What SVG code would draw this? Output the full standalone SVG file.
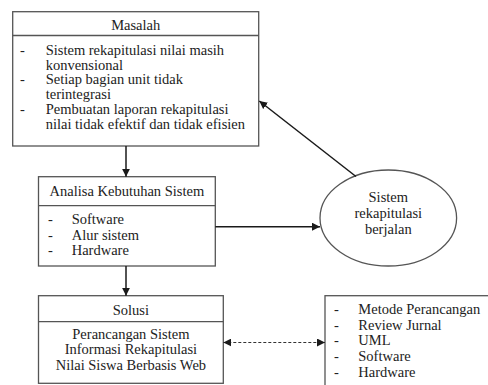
<svg xmlns="http://www.w3.org/2000/svg" width="488" height="385" viewBox="0 0 488 385">
<defs>
<marker id="ah" viewBox="0 0 10 10" refX="10" refY="5" markerWidth="8" markerHeight="8" markerUnits="userSpaceOnUse" orient="auto-start-reverse">
<path d="M0,0 L10,5 L0,10 Z" fill="#1a1a1a"/>
</marker>
</defs>
<style>
.box{fill:#fff;stroke:#555;stroke-width:1.3}
.t{font-family:"Liberation Serif","Times New Roman",serif;font-size:14.5px;fill:#222}
.c{text-anchor:middle}
.ln{stroke:#1a1a1a;stroke-width:1.5;fill:none}
.dash{stroke:#333;stroke-width:1.2;stroke-dasharray:3,2;fill:none}
</style>
<rect width="488" height="385" fill="#fff"/>
<g id="masalah">
<rect class="box" x="12.7" y="11.7" width="246" height="134.3"/>
<line class="box" x1="12.7" y1="35.5" x2="258.7" y2="35.5"/>
<text class="t c" x="135.7" y="30">Masalah</text>
<text class="t" x="20" y="55">-</text>
<text class="t" x="45.7" y="55">Sistem rekapitulasi nilai masih</text>
<text class="t" x="45.7" y="69.5">konvensional</text>
<text class="t" x="20" y="84">-</text>
<text class="t" x="45.7" y="84">Setiap bagian unit tidak</text>
<text class="t" x="45.7" y="99">terintegrasi</text>
<text class="t" x="20" y="114.3">-</text>
<text class="t" x="45.7" y="114.3">Pembuatan laporan rekapitulasi</text>
<text class="t" x="45.7" y="129.3">nilai tidak efektif dan tidak efisien</text>
</g>
<g id="analisa">
<rect class="box" x="38.5" y="176.7" width="176.8" height="89.3"/>
<line class="box" x1="38.5" y1="205.7" x2="215.3" y2="205.7"/>
<text class="t c" x="126.9" y="195.7">Analisa Kebutuhan Sistem</text>
<text class="t" x="48" y="224">-</text>
<text class="t" x="71.7" y="224">Software</text>
<text class="t" x="48" y="239.5">-</text>
<text class="t" x="71.7" y="239.5">Alur sistem</text>
<text class="t" x="48" y="255">-</text>
<text class="t" x="71.7" y="255">Hardware</text>
</g>
<g id="solusi">
<rect class="box" x="38.5" y="295.7" width="184.8" height="87.6"/>
<line class="box" x1="38.5" y1="321.7" x2="223.3" y2="321.7"/>
<text class="t c" x="130.9" y="315">Solusi</text>
<text class="t c" x="130.9" y="338.5">Perancangan Sistem</text>
<text class="t c" x="130.9" y="354.3">Informasi Rekapitulasi</text>
<text class="t c" x="130.9" y="370">Nilai Siswa Berbasis Web</text>
</g>
<g id="sistem-berjalan">
<ellipse class="box" cx="388.3" cy="218" rx="68.3" ry="48" stroke="#222"/>
<text class="t c" x="388.3" y="201.7">Sistem</text>
<text class="t c" x="388.3" y="218.3">rekapitulasi</text>
<text class="t c" x="388.3" y="234">berjalan</text>
</g>
<g id="metode">
<rect class="box" x="325" y="295.7" width="170" height="100"/>
<text class="t" x="334" y="314">-</text>
<text class="t" x="358.3" y="314">Metode Perancangan</text>
<text class="t" x="334" y="330">-</text>
<text class="t" x="358.3" y="330">Review Jurnal</text>
<text class="t" x="334" y="345">-</text>
<text class="t" x="358.3" y="345">UML</text>
<text class="t" x="334" y="360.7">-</text>
<text class="t" x="358.3" y="360.7">Software</text>
<text class="t" x="334" y="376.7">-</text>
<text class="t" x="358.3" y="376.7">Hardware</text>
</g>
<g id="connectors">
<line class="ln" x1="126" y1="146" x2="126" y2="176.7" marker-end="url(#ah)"/>
<line class="ln" x1="126" y1="266" x2="126" y2="295.7" marker-end="url(#ah)"/>
<line class="ln" x1="215.3" y1="226.7" x2="320" y2="226.7" marker-end="url(#ah)"/>
<line class="ln" x1="356" y1="176.5" x2="259.3" y2="101" marker-end="url(#ah)"/>
<line class="dash" x1="223.3" y1="342.5" x2="325" y2="342.5" marker-start="url(#ah)" marker-end="url(#ah)"/>
</g>
</svg>
